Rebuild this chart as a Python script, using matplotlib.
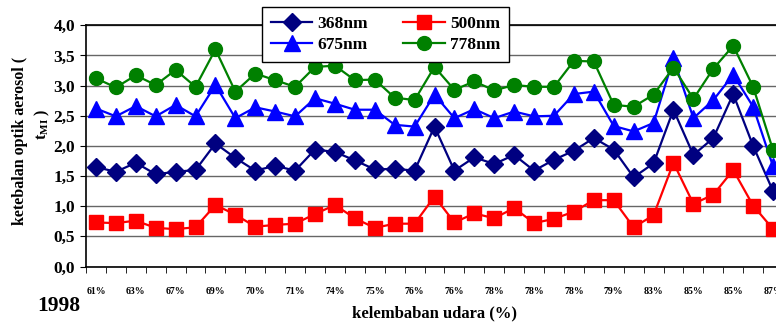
import matplotlib
matplotlib.use("Agg")
import matplotlib.pyplot as plt
from matplotlib.ticker import MultipleLocator, FixedLocator, FuncFormatter

plt.rcParams['font.family'] = ['Liberation Serif', 'DejaVu Serif']
plt.rcParams['font.weight'] = 'bold'

# ---------------------------------------------------------------- data
tick_labels = ['61%', '63%', '67%', '69%', '70%', '71%', '74%', '75%', '76%',
               '76%', '78%', '78%', '78%', '79%', '83%', '85%', '85%', '87%']

nm368 = [1.65, 1.57, 1.72, 1.53, 1.57, 1.60, 2.04, 1.80, 1.59, 1.67, 1.59, 1.94,
         1.90, 1.76, 1.61, 1.62, 1.59, 2.32, 1.59, 1.81, 1.70, 1.85, 1.59, 1.77,
         1.92, 2.13, 1.94, 1.48, 1.71, 2.60, 1.85, 2.13, 2.86, 2.00, 1.25]
nm500 = [0.73, 0.72, 0.76, 0.64, 0.62, 0.65, 1.02, 0.86, 0.66, 0.69, 0.71, 0.87,
         1.02, 0.80, 0.64, 0.71, 0.71, 1.16, 0.73, 0.88, 0.80, 0.97, 0.72, 0.79,
         0.91, 1.10, 1.10, 0.65, 0.85, 1.72, 1.04, 1.19, 1.60, 1.01, 0.62]
nm675 = [2.62, 2.49, 2.66, 2.49, 2.68, 2.49, 3.01, 2.46, 2.64, 2.57, 2.49, 2.79,
         2.70, 2.60, 2.60, 2.35, 2.32, 2.85, 2.46, 2.61, 2.46, 2.57, 2.49, 2.50,
         2.86, 2.90, 2.33, 2.24, 2.38, 3.45, 2.46, 2.76, 3.18, 2.65, 1.66]
nm778 = [3.12, 2.97, 3.17, 3.01, 3.26, 2.98, 3.60, 2.90, 3.20, 3.09, 2.98, 3.31,
         3.33, 3.09, 3.10, 2.80, 2.76, 3.31, 2.93, 3.07, 2.92, 3.01, 2.98, 2.98,
         3.41, 3.40, 2.68, 2.65, 2.85, 3.30, 2.78, 3.28, 3.66, 2.98, 1.93]

n = len(nm368)
x = list(range(n))

# ---------------------------------------------------------------- figure
W, H = 776, 324
fig = plt.figure(figsize=(W / 100, H / 100), dpi=100)
ax = fig.add_axes([86 / W, (H - 266.5) / H, 697 / W, 241.2 / H])

l368, = ax.plot(x, nm368, color='#000080', lw=1.6, marker='D', ms=9, zorder=3)
l500, = ax.plot(x, nm500, color='#ff0000', lw=1.6, marker='s', ms=10, zorder=3)
l675, = ax.plot(x, nm675, color='#0000ff', lw=1.6, marker='^', ms=11, zorder=3)
l778, = ax.plot(x, nm778, color='#008000', lw=1.6, marker='o', ms=10, zorder=3)

ax.set_xlim(-0.5, n - 0.5)
ax.set_ylim(0, 4.0)
ax.yaxis.set_major_locator(MultipleLocator(0.5))
ax.yaxis.set_major_formatter(FuncFormatter(lambda v, p: f"{v:.1f}".replace('.', ',')))
ax.grid(axis='y', color='#666666', lw=1)
ax.set_axisbelow(True)

ax.xaxis.set_major_locator(FixedLocator(x[::2]))
ax.set_xticklabels(tick_labels)
ax.xaxis.set_minor_locator(FixedLocator([i - 0.5 for i in range(n + 1)]))
ax.tick_params(axis='x', which='major', length=0, pad=15, labelsize=7)
ax.tick_params(axis='x', which='minor', length=4, direction='out')
ax.tick_params(axis='y', length=4, direction='out', labelsize=12.5, pad=4)

for s in ['left', 'bottom', 'top']:
    ax.spines[s].set_color('black')
    ax.spines[s].set_linewidth(1.2)
ax.spines['right'].set_visible(False)

fig.text(20 / W, 1 - 141 / H, 'ketebalan optik aerosol (', rotation=90,
         ha='center', va='center', fontsize=11.5, fontweight='bold')
fig.text(42 / W, 1 - 124 / H, r'$\mathregular{t_{MI}}$ )', rotation=90,
         ha='center', va='center', fontsize=11.5, fontweight='bold')
fig.text(434 / W, 1 - 313 / H, 'kelembaban udara (%)', ha='center', va='center',
         fontsize=12, fontweight='bold')
fig.text(37 / W, 1 - 306 / H, '1998', ha='left', va='center',
         fontsize=15.5, fontweight='bold')

leg = fig.legend([l368, l675, l500, l778], ['368nm', '675nm', '500nm', '778nm'],
                 ncol=2, loc='upper left', bbox_to_anchor=(262 / W, 1 - 7 / H),
                 prop={'size': 12.5, 'weight': 'bold'}, frameon=True,
                 fancybox=False, edgecolor='black', framealpha=1,
                 handlelength=2.4, handletextpad=0.3, columnspacing=2.0,
                 labelspacing=0.3, borderpad=0.5, borderaxespad=0)
leg.get_frame().set_linewidth(1)

fig.savefig('out.png', dpi=100)
